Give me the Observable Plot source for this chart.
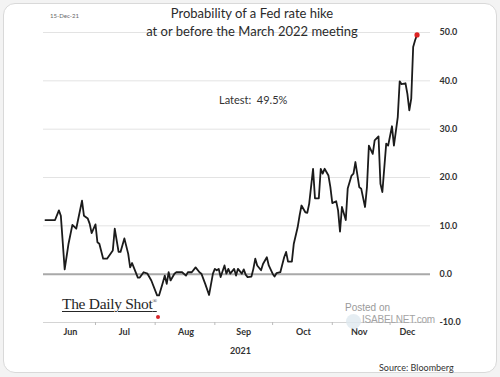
<!DOCTYPE html>
<html>
<head>
<meta charset="utf-8">
<script src="https://cdn.jsdelivr.net/npm/d3@7"></script>
<script src="https://cdn.jsdelivr.net/npm/@observablehq/plot@0.6"></script>
<style>
  html, body { margin: 0; padding: 0; background: #f3f3f3; }
  #wrap { position: relative; width: 500px; height: 377px; overflow: hidden; font-family: Lato, "Open Sans", sans-serif; }
  #frame { position: absolute; left: 3px; top: 3px; width: 492px; height: 368px; background: #fff; border: 1px solid #d9d9d9; border-radius: 12px; }
  #chart { position: absolute; left: 0; top: 0; }
  .t { position: absolute; white-space: nowrap; color: #333; }
</style>
</head>
<body>
<div id="wrap">
  <div id="frame"></div>
  <div id="chart"></div>
  <div class="t" style="left:50px; top:12px; font-size:6px; color:#666;">15-Dec-21</div>
  <div class="t" style="left:0; width:504px; text-align:center; top:4px; font-size:13px; line-height:18px; color:#2b2b2b;">Probability of a Fed rate hike<br>at or before the March 2022 meeting</div>
  <div class="t" style="left:219px; top:93px; font-size:11px; color:#333;">Latest:&nbsp; 49.5%</div>
  <div class="t" style="left:62px; top:295px; font-family:'Liberation Serif', serif; font-size:15.5px; color:#262626; letter-spacing:-0.3px; text-decoration:underline; text-decoration-thickness:1px; text-underline-offset:2px;">The Daily Shot<sup style="font-size:6px;">®</sup></div>
  <div class="t" style="left:156px; top:315px; width:4px; height:4px; border-radius:2px; background:#d8262a;"></div>
  <div class="t" style="left:345px; top:302px; font-family:'Liberation Sans', sans-serif; font-size:10px; color:#9a9a9a;">Posted on</div>
  <div class="t" style="left:346px; top:314px; width:15px; height:15px; border-radius:8px; background:#dfe8ef; opacity:0.8;"></div>
  <div class="t" style="left:362px; top:314px; font-family:'Liberation Sans', sans-serif; font-size:10px; letter-spacing:-0.2px; line-height:12px; color:#a3a3a3;">ISABELNET.com</div>
  <div class="t" style="left:230px; top:345px; font-size:9px; font-weight:bold; color:#333;">2021</div>
  <div class="t" style="left:379px; top:362px; font-size:9px; color:#333;">Source: Bloomberg</div>
</div>
<script>
// Data
const dates = [
  "2021-06-05","2021-06-10","2021-06-12","2021-06-13","2021-06-15","2021-06-17","2021-06-19","2021-06-21","2021-06-24","2021-06-25",
  "2021-06-27","2021-06-28","2021-06-29","2021-07-01","2021-07-02","2021-07-03","2021-07-05","2021-07-07","2021-07-10","2021-07-11",
  "2021-07-13","2021-07-14","2021-07-16","2021-07-18","2021-07-19","2021-07-20","2021-07-23","2021-07-24","2021-07-26","2021-07-28",
  "2021-07-30","2021-08-02","2021-08-03","2021-08-05","2021-08-06","2021-08-07","2021-08-08","2021-08-09","2021-08-11","2021-08-12",
  "2021-08-15","2021-08-17","2021-08-18","2021-08-20","2021-08-22","2021-08-24","2021-08-25","2021-08-27","2021-08-29","2021-08-31",
  "2021-09-01","2021-09-02","2021-09-03","2021-09-04","2021-09-06","2021-09-07","2021-09-08","2021-09-09","2021-09-11","2021-09-12",
  "2021-09-13","2021-09-15","2021-09-16","2021-09-17","2021-09-18","2021-09-20","2021-09-21","2021-09-22","2021-09-23","2021-09-25",
  "2021-09-26","2021-09-28","2021-09-29","2021-10-01","2021-10-02","2021-10-03","2021-10-05","2021-10-07","2021-10-08","2021-10-09",
  "2021-10-11","2021-10-12","2021-10-14","2021-10-15","2021-10-16","2021-10-18","2021-10-19","2021-10-20","2021-10-22","2021-10-23",
  "2021-10-25","2021-10-26","2021-10-27","2021-10-28","2021-10-30","2021-10-31","2021-11-01","2021-11-03","2021-11-04","2021-11-05",
  "2021-11-06","2021-11-08","2021-11-09","2021-11-11","2021-11-12","2021-11-13","2021-11-15","2021-11-16","2021-11-18","2021-11-19",
  "2021-11-20","2021-11-22","2021-11-23","2021-11-25","2021-11-26","2021-11-27","2021-11-29","2021-11-30","2021-12-02","2021-12-03",
  "2021-12-05","2021-12-06","2021-12-07","2021-12-09","2021-12-10","2021-12-11","2021-12-12","2021-12-13","2021-12-14","2021-12-15"
];
const probability = [
  11.2, 11.2, 13.2, 12.1, 1.0, 6.3, 10.2, 9.4, 15.2, 12.1,
  11.5, 10.4, 8.5, 10.3, 6.6, 6.3, 3.2, 3.2, 4.9, 9.4,
  4.6, 4.6, 7.4, 4.2, 1.4, 2.3, -0.7, -0.7, 0.4, 0.1,
  -1.3, -4.4, -4.4, -1.7, -0.3, -2.0, 0.4, -1.3, 0.1, 0.4,
  0.4, -0.3, 0.4, 0.4, 1.4, 0.4, 0.1, -2.0, -4.3, 0.1,
  1.1, 0.8, 1.1, -0.6, 1.8, 0.1, 1.1, 0.1, 1.1, -0.3,
  1.1, 0.1, 1.0, -0.1, -0.6, -0.5, 1.1, 3.2, 1.8, 0.8,
  2.1, 3.5, 1.8, 0.1, -0.5, 0.2, 0.4, 3.5, 4.6, 2.6,
  2.6, 6.3, 9.7, 12.1, 14.2, 12.8, 12.7, 14.6, 21.8, 15.7,
  15.7, 21.8, 20.8, 21.8, 20.4, 18.0, 14.7, 15.1, 13.2, 8.8,
  13.9, 11.2, 17.7, 20.4, 20.8, 23.2, 18.0, 17.7, 13.9, 18.0,
  26.6, 24.9, 27.7, 28.5, 18.7, 17.0, 27.0, 26.6, 30.6, 26.6,
  32.5, 39.9, 39.3, 39.5, 37.3, 33.9, 36.3, 47.0, 48.4, 49.5
];
const yTicks = [-10, 0, 10, 20, 30, 40, 50];
const gridValues = [10, 20, 30, 40, 50];
const monthStarts = ["2021-07-01","2021-08-01","2021-09-01","2021-10-01","2021-11-01","2021-12-01"];
const monthLabels = ["Jun","Jul","Aug","Sep","Oct","Nov","Dec"];
const monthLabelDates = ["2021-06-18","2021-07-16","2021-08-17","2021-09-16","2021-10-17","2021-11-15","2021-12-10"];
const xDomain = ["2021-06-04","2021-12-22"];
const yDomain = [-10, 50];

const data = dates.map((d, i) => ({date: new Date(d), value: probability[i]}));
const last = [data[data.length - 1]];
const labels = monthLabels.map((m, i) => ({label: m, date: new Date(monthLabelDates[i])}));
const bottom = yDomain[0];

const chart = Plot.plot({
  width: 500,
  height: 377,
  marginLeft: 43,
  marginRight: 70,
  marginTop: 32,
  marginBottom: 55,
  style: {background: "transparent", fontFamily: "Lato, 'Open Sans', sans-serif"},
  x: {type: "utc", domain: xDomain.map(d => new Date(d)), axis: null, label: null},
  y: {domain: yDomain, axis: null, label: null},
  marks: [
    Plot.ruleY(gridValues, {stroke: "#e3e3e3", strokeWidth: 1}),
    Plot.ruleY([bottom], {stroke: "#d4d4d4", strokeWidth: 1}),
    Plot.ruleY([0], {stroke: "#a9a9a9", strokeWidth: 2}),
    Plot.axisX({ticks: monthStarts.map(d => new Date(d)), tickFormat: () => "", tickSize: 3, stroke: "#bbb", anchor: "bottom", label: null}),
    Plot.text(labels, {x: "date", y: () => bottom, text: "label", dy: 10, fontSize: 9, fontWeight: "bold", fill: "#333"}),
    Plot.axisY({anchor: "right", ticks: yTicks, tickFormat: d => d.toFixed(1), tickSize: 0, tickPadding: 9, fontSize: 9, fontWeight: "bold", fill: "#333", label: null}),
    Plot.line(data, {x: "date", y: "value", stroke: "#1b1b1b", strokeWidth: 1.8}),
    Plot.dot(last, {x: "date", y: "value", r: 2.6, fill: "#dd2222", stroke: "none"})
  ]
});
document.getElementById("chart").appendChild(chart);
</script>
</body>
</html>
